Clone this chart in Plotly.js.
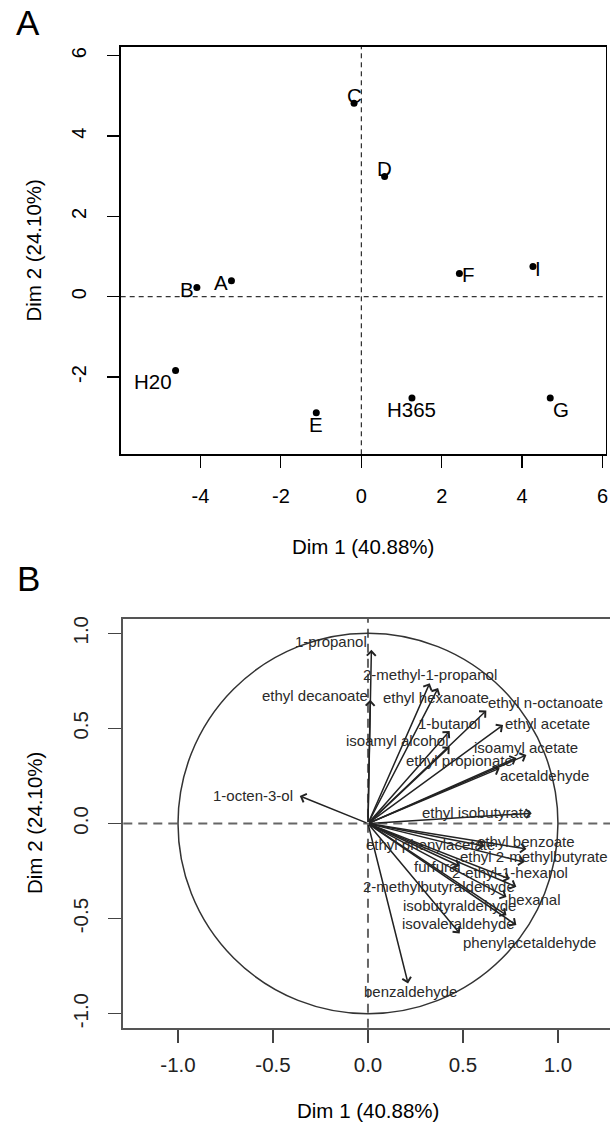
<!DOCTYPE html>
<html>
<head>
<meta charset="utf-8">
<script src="https://cdn.plot.ly/plotly-3.0.1.min.js"></script>
<style>html,body{margin:0;padding:0;background:#fff;}#chart{width:610px;height:1136px;}</style>
</head>
<body>
<div id="chart"></div>
<script>
// ---------- Panel A: individuals ----------
const samples = ['A', 'B', 'C', 'D', 'E', 'F', 'G', 'H20', 'H365', 'I'];
const dim1Ind = [-3.23, -4.09, -0.18, 0.58, -1.12, 2.44, 4.70, -4.62, 1.26, 4.27];
const dim2Ind = [0.40, 0.23, 4.82, 2.99, -2.89, 0.58, -2.52, -1.84, -2.52, 0.75];
const xTicksA = [-4, -2, 0, 2, 4, 6];
const xTickTextA = ['-4', '-2', '0', '2', '4', '6'];
const yTicksA = [-2, 0, 2, 4, 6];
const yTickTextA = ['-2', '0', '2', '4', '6'];

// ---------- Panel B: variables ----------
const variables = [
  '1-propanol', '2-methyl-1-propanol', 'ethyl decanoate', 'ethyl hexanoate',
  'ethyl n-octanoate', '1-butanol', 'ethyl acetate', 'isoamyl alcohol',
  'isoamyl acetate', 'ethyl propionate', 'acetaldehyde', 'ethyl isobutyrate',
  '1-octen-3-ol', 'ethyl benzoate', 'ethyl phenylacetate', 'ethyl 2-methylbutyrate',
  'furfural', '2-ethyl-1-hexanol', '2-methylbutyraldehyde', 'hexanal',
  'isobutyraldehyde', 'isovaleraldehyde', 'phenylacetaldehyde', 'benzaldehyde'
];
const dim1Var = [0.018, 0.325, 0.012, 0.369, 0.623, 0.430, 0.711, 0.430,
                 0.834, 0.781, 0.693, 0.862, -0.359, 0.834, 0.614, 0.824,
                 0.483, 0.746, 0.781, 0.729, 0.729, 0.781, 0.483, 0.211];
const dim2Var = [0.913, 0.738, 0.650, 0.712, 0.594, 0.487, 0.518, 0.403,
                 0.360, 0.345, 0.290, 0.054, 0.145, -0.134, -0.118, -0.203,
                 -0.224, -0.292, -0.333, -0.387, -0.482, -0.534, -0.578, -0.841];
const xTicksB = [-1, -0.5, 0, 0.5, 1];
const xTickTextB = ['-1.0', '-0.5', '0.0', '0.5', '1.0'];
const yTicksB = [-1, -0.5, 0, 0.5, 1];
const yTickTextB = ['-1.0', '-0.5', '0.0', '0.5', '1.0'];

// ---------- styling (label offsets in px, not data) ----------
const shiftA = {
  'A': [-10, -2], 'B': [-10, -2], 'C': [0, 8], 'D': [0, 8], 'E': [0, -12],
  'F': [9, -1], 'G': [11, -12], 'H20': [-23, -11], 'H365': [0, -12], 'I': [5, -2]
};
const shiftB = [
  [-40, 8.5], [0, 9], [-55, 4], [-2, -9], [59, 8], [0, 7], [44, 1], [-52, 6],
  [0, 8], [-57, -3], [45, -7], [-55, 1], [-47, 0], [0, 7], [-54, 1], [9, 6],
  [-22, 0], [0, 7], [-77, 0], [28, -2], [-47, 10], [-58, 2], [70, -9], [2, -8]
];

const FONT = 'Liberation Sans, Arial, sans-serif';
const W = 610, H = 1136;
const px = v => v / W;
const py = v => 1 - v / H;

const traces = [{
  type: 'scatter', mode: 'markers', x: dim1Ind, y: dim2Ind,
  xaxis: 'x', yaxis: 'y', hoverinfo: 'none',
  marker: {size: 7, color: '#000'}
}];

const annotations = [];
samples.forEach((s, i) => {
  annotations.push({
    xref: 'x', yref: 'y', x: dim1Ind[i], y: dim2Ind[i], text: s, showarrow: false,
    xshift: shiftA[s][0], yshift: shiftA[s][1],
    font: {family: FONT, size: 20.5, color: '#000'}, xanchor: 'center', yanchor: 'middle'
  });
});
variables.forEach((v, i) => {
  annotations.push({
    xref: 'x2', yref: 'y2', x: dim1Var[i], y: dim2Var[i], axref: 'x2', ayref: 'y2',
    ax: 0, ay: 0, text: '', showarrow: true, arrowhead: 4, arrowsize: 1.15,
    arrowwidth: 1.5, arrowcolor: '#222', standoff: 0, startstandoff: 0
  });
});
variables.forEach((v, i) => {
  annotations.push({
    xref: 'x2', yref: 'y2', x: dim1Var[i], y: dim2Var[i], text: v, showarrow: false,
    xshift: shiftB[i][0], yshift: shiftB[i][1],
    font: {family: FONT, size: 15, color: '#2a2a2a'}, xanchor: 'center', yanchor: 'middle'
  });
});
const paperText = (t, x, y, size, angle) => ({
  xref: 'paper', yref: 'paper', x: px(x), y: py(y), text: t, showarrow: false,
  xanchor: 'center', yanchor: 'middle', textangle: angle || 0,
  font: {family: FONT, size: size, color: '#000'}
});
annotations.push(paperText('A', 28, 22, 35));
annotations.push(paperText('B', 28, 578, 35));
annotations.push(paperText('Dim 1 (40.88%)', 363.3, 546, 20.5));
annotations.push(paperText('Dim 2 (24.10%)', 33, 250.5, 20.5, -90));
annotations.push(paperText('Dim 1 (40.88%)', 368, 1110, 20.5));
annotations.push(paperText('Dim 2 (24.10%)', 34, 823, 20.5, -90));

const shapes = [
  {type: 'line', xref: 'x', yref: 'y domain', x0: 0, x1: 0, y0: 0, y1: 1,
   line: {color: '#000', width: 1, dash: '5px,4px'}},
  {type: 'line', xref: 'x domain', yref: 'y', x0: 0, x1: 1, y0: 0, y1: 0,
   line: {color: '#000', width: 1, dash: '5px,4px'}},
  {type: 'line', xref: 'x2', yref: 'y2 domain', x0: 0, x1: 0, y0: 0, y1: 1,
   line: {color: '#666', width: 2, dash: '9px,6px'}},
  {type: 'line', xref: 'x2 domain', yref: 'y2', x0: 0, x1: 1, y0: 0, y1: 0,
   line: {color: '#666', width: 2, dash: '9px,6px'}},
  {type: 'circle', xref: 'x2', yref: 'y2', x0: -1, x1: 1, y0: -1, y1: 1,
   line: {color: '#333', width: 1.5}}
];

const axBase = {
  showgrid: false, zeroline: false, ticks: 'outside', showline: true,
  tickmode: 'array', automargin: false
};

const layout = {
  width: W, height: H, margin: {l: 0, r: 0, t: 0, b: 0},
  paper_bgcolor: '#fff', plot_bgcolor: '#fff', showlegend: false,
  font: {family: FONT, color: '#000'},
  xaxis: Object.assign({}, axBase, {
    domain: [px(120.7), px(606)], range: [-5.985, 6.087], anchor: 'y',
    tickvals: xTicksA, ticktext: xTickTextA, ticklen: 12.7, tickwidth: 1.2,
    tickcolor: '#000', linecolor: '#000', linewidth: 1.3, mirror: true,
    tickfont: {family: FONT, size: 20, color: '#000'}, ticklabelstandoff: 11
  }),
  yaxis: Object.assign({}, axBase, {
    domain: [py(454.3), py(46.7)], range: [-3.924, 6.225], anchor: 'x',
    tickvals: yTicksA, ticktext: yTickTextA, ticklen: 12.7, tickwidth: 1.2,
    tickcolor: '#000', linecolor: '#000', linewidth: 1.3, mirror: true,
    tickangle: -90, tickfont: {family: FONT, size: 20, color: '#000'}, ticklabelstandoff: 13
  }),
  xaxis2: Object.assign({}, axBase, {
    domain: [px(123.3), 1], range: [-1.288, 1.274], anchor: 'y2',
    tickvals: xTicksB, ticktext: xTickTextB, ticklen: 13, tickwidth: 1.5,
    tickcolor: '#444', linecolor: '#555', linewidth: 2, mirror: true,
    tickfont: {family: FONT, size: 20.5, color: '#222'}, ticklabelstandoff: 5
  }),
  yaxis2: Object.assign({}, axBase, {
    domain: [py(1027.7), py(619)], range: [-1.0736, 1.0752], anchor: 'x2',
    tickvals: yTicksB, ticktext: yTickTextB, ticklen: 13, tickwidth: 1.5,
    tickcolor: '#444', linecolor: '#555', linewidth: 2, mirror: false,
    tickangle: -90, tickfont: {family: FONT, size: 20.5, color: '#222'}, ticklabelstandoff: 12
  }),
  shapes: shapes,
  annotations: annotations
};

Plotly.newPlot('chart', traces, layout, {staticPlot: true, displayModeBar: false});
</script>
</body>
</html>
